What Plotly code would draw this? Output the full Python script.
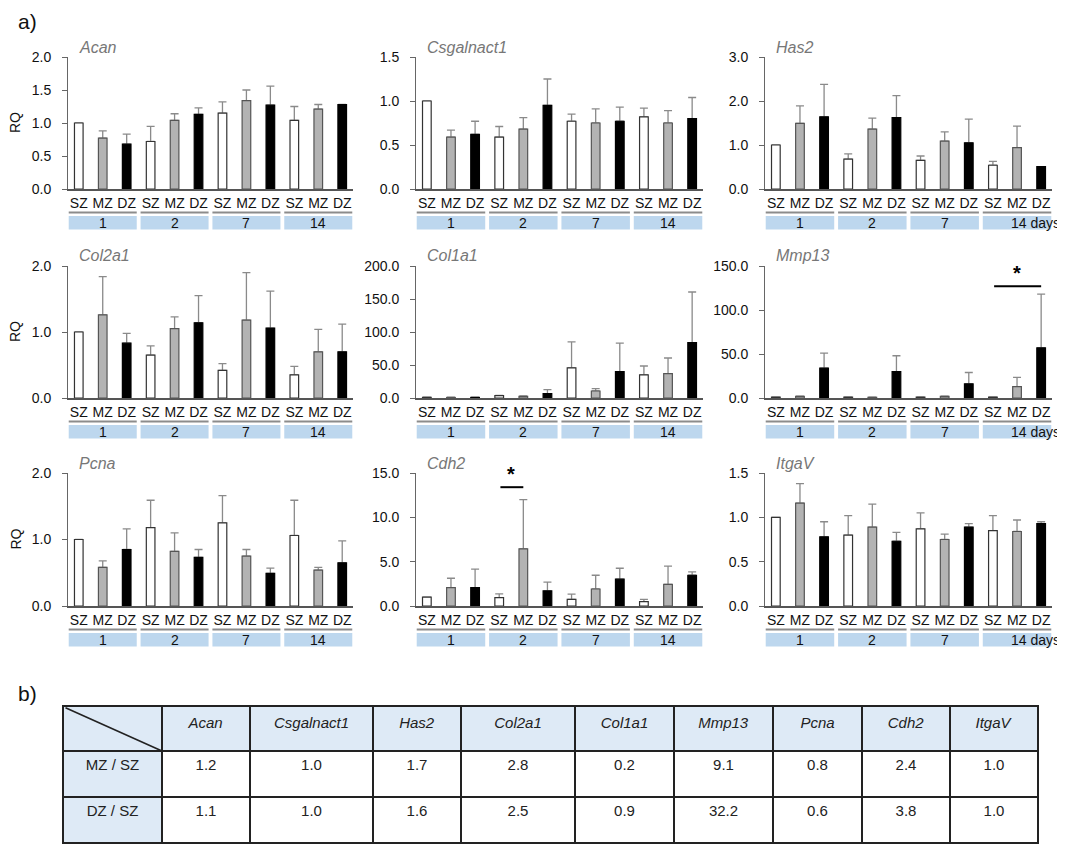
import plotly.graph_objects as go

# ---- data ----
zones = ["SZ", "MZ", "DZ"]
days = ["1", "2", "7", "14"]
genes = ["Acan", "Csgalnact1", "Has2", "Col2a1", "Col1a1", "Mmp13", "Pcna", "Cdh2", "ItgaV"]

# RQ means, ordered SZ MZ DZ for day 1, 2, 7, 14
acan = [1.00, 0.77, 0.68, 0.72, 1.04, 1.13, 1.15, 1.34, 1.27, 1.04, 1.21, 1.28]
acan_err = [0.0, 0.11, 0.15, 0.23, 0.10, 0.10, 0.17, 0.16, 0.29, 0.21, 0.07, 0.0]
csgalnact1 = [1.00, 0.59, 0.62, 0.59, 0.68, 0.95, 0.77, 0.75, 0.77, 0.82, 0.75, 0.80]
csgalnact1_err = [0.0, 0.08, 0.15, 0.12, 0.13, 0.30, 0.08, 0.16, 0.16, 0.10, 0.14, 0.24]
has2 = [1.00, 1.49, 1.64, 0.68, 1.36, 1.62, 0.65, 1.09, 1.05, 0.54, 0.94, 0.51]
has2_err = [0.0, 0.40, 0.74, 0.12, 0.25, 0.50, 0.10, 0.21, 0.54, 0.09, 0.49, 0.0]
col2a1 = [1.00, 1.26, 0.83, 0.65, 1.05, 1.14, 0.42, 1.18, 1.06, 0.35, 0.70, 0.70]
col2a1_err = [0.0, 0.58, 0.15, 0.14, 0.18, 0.41, 0.10, 0.72, 0.56, 0.13, 0.34, 0.42]
col1a1 = [1.0, 0.8, 0.9, 3.5, 2.5, 6.6, 45.5, 10.6, 40.0, 35.0, 37.0, 84.0]
col1a1_err = [0.3, 0.3, 0.3, 0.5, 0.5, 6.0, 39.5, 3.5, 43.0, 13.5, 23.6, 76.6]
mmp13 = [1.0, 1.9, 34.0, 1.0, 0.8, 30.0, 1.0, 1.8, 16.0, 1.0, 13.0, 57.0]
mmp13_err = [0.0, 0.2, 17.0, 0.0, 0.1, 18.0, 0.1, 0.3, 13.0, 0.1, 10.5, 61.0]
pcna = [1.00, 0.58, 0.85, 1.18, 0.82, 0.73, 1.25, 0.75, 0.49, 1.06, 0.54, 0.65]
pcna_err = [0.0, 0.10, 0.31, 0.41, 0.28, 0.12, 0.41, 0.10, 0.08, 0.53, 0.04, 0.33]
cdh2 = [1.00, 2.07, 2.07, 0.94, 6.45, 1.70, 0.75, 1.92, 3.02, 0.49, 2.45, 3.47]
cdh2_err = [0.0, 1.06, 2.10, 0.42, 5.55, 1.00, 0.60, 1.55, 1.24, 0.26, 2.04, 0.38]
itgav = [1.00, 1.16, 0.78, 0.80, 0.89, 0.73, 0.87, 0.75, 0.89, 0.85, 0.84, 0.93]
itgav_err = [0.0, 0.22, 0.17, 0.22, 0.26, 0.10, 0.18, 0.06, 0.04, 0.17, 0.13, 0.02]

y_max = [2.0, 1.5, 3.0, 2.0, 200.0, 150.0, 2.0, 15.0, 1.5]
y_dtick = [0.5, 0.5, 1.0, 1.0, 50.0, 50.0, 1.0, 5.0, 0.5]

# significance marks: (panel index, from bar, to bar, height)
sig_marks = [(5, 9, 11, 127.0), (7, 3, 4, 13.4)]

# table b)
ratio_rows = ["MZ / SZ", "DZ / SZ"]
mz_sz = ["1.2", "1.0", "1.7", "2.8", "0.2", "9.1", "0.8", "2.4", "1.0"]
dz_sz = ["1.1", "1.0", "1.6", "2.5", "0.9", "32.2", "0.6", "3.8", "1.0"]

means = [acan, csgalnact1, has2, col2a1, col1a1, mmp13, pcna, cdh2, itgav]
errs = [acan_err, csgalnact1_err, has2_err, col2a1_err, col1a1_err,
        mmp13_err, pcna_err, cdh2_err, itgav_err]

# page body has an 8px margin, so the figure is drawn 8px smaller
OFF = 8
W, H = 1065 - OFF, 846 - OFF
FONT = "Arial, Liberation Sans, sans-serif"


def fx(px):
    return (px - OFF) / W


def fy(py):
    return 1 - (py - OFF) / H


cols_px = [(68, 353), (416, 703), (765, 1052)]
rows_px = [(57, 189), (266, 398), (473, 606)]

fill_cols = ["white", "#b3b3b3", "black"] * 4
line_cols = ["#333333", "#555555", "black"] * 4
xs = list(range(12))
ticktext = zones * 4

fig = go.Figure()
annotations = []
shapes = []

for k in range(9):
    r, c = divmod(k, 3)
    n = k + 1
    xa = "x" if n == 1 else "x%d" % n
    ya = "y" if n == 1 else "y%d" % n
    top, bot = rows_px[r]
    left, right = cols_px[c]
    hpx = bot - top

    # error bars underneath, real bars on top
    fig.add_trace(go.Bar(
        x=xs, y=means[k], width=0.36, xaxis=xa, yaxis=ya,
        marker=dict(color="rgba(0,0,0,0)", line=dict(width=0)),
        error_y=dict(type="data", array=errs[k], symmetric=False,
                     arrayminus=[0] * 12, color="#8a8a8a", thickness=1.3, width=4),
        showlegend=False, hoverinfo="skip"))
    fig.add_trace(go.Bar(
        x=xs, y=means[k], width=0.36, xaxis=xa, yaxis=ya,
        marker=dict(color=fill_cols, line=dict(color=line_cols, width=1.2)),
        showlegend=False))

    fig.layout["xaxis" if n == 1 else "xaxis%d" % n] = dict(
        domain=[fx(left), fx(right)], anchor=ya, range=[-0.45, 11.45],
        tickvals=xs, ticktext=ticktext, ticks="", showgrid=False, zeroline=False,
        showline=True, linecolor="#555555", linewidth=1.5, automargin=False,
        tickfont=dict(size=14, color="#111111", family=FONT), fixedrange=True)
    fig.layout["yaxis" if n == 1 else "yaxis%d" % n] = dict(
        domain=[fy(bot), fy(top)], anchor=xa, range=[0, y_max[k]],
        dtick=y_dtick[k], tickformat=".1f", ticks="outside", ticklen=5,
        tickcolor="#666666", showline=True, linecolor="#666666", linewidth=1,
        showgrid=False, zeroline=False, automargin=False, ticklabelstandoff=8,
        tickfont=dict(size=14, color="#111111", family=FONT), fixedrange=True)

    # gene name
    annotations.append(dict(
        text="<i>%s</i>" % genes[k], x=fx(left + 9), y=fy(top - 10),
        xref="paper", yref="paper", xanchor="left", yanchor="middle",
        showarrow=False, font=dict(size=16, color="#777777", family=FONT)))

    # day groups: grey rule + blue box + label
    for g, d in enumerate(days):
        x0, x1 = 3 * g - 0.42, 3 * g + 2.42
        shapes.append(dict(
            type="line", xref=xa, yref=ya + " domain", x0=x0, x1=x1,
            y0=-23.5 / hpx, y1=-23.5 / hpx, line=dict(color="#8c8c8c", width=2)))
        shapes.append(dict(
            type="rect", xref=xa, yref=ya + " domain", x0=x0, x1=x1,
            y0=-27 / hpx, y1=-40.5 / hpx, fillcolor="#bdd7ee", line=dict(width=0)))
        if c == 2 and g == 3:
            annotations.append(dict(
                text=d + " days", x=3 * g + 0.66, y=-34 / hpx, xref=xa,
                yref=ya + " domain", xanchor="left", yanchor="middle",
                showarrow=False, font=dict(size=14, color="#111111", family=FONT)))
        else:
            annotations.append(dict(
                text=d, x=3 * g + 1, y=-34 / hpx, xref=xa, yref=ya + " domain",
                xanchor="center", yanchor="middle", showarrow=False,
                font=dict(size=14, color="#111111", family=FONT)))

    if c == 0:
        annotations.append(dict(
            text="RQ", x=fx(15), y=fy((top + bot) / 2), xref="paper", yref="paper",
            xanchor="center", yanchor="middle", textangle=-90, showarrow=False,
            font=dict(size=14, color="#111111", family=FONT)))

# significance bars
for k, a, b, h in sig_marks:
    n = k + 1
    shapes.append(dict(type="line", xref="x%d" % n, yref="y%d" % n,
                       x0=a + 0.05, x1=b, y0=h, y1=h,
                       line=dict(color="black", width=2)))
    annotations.append(dict(
        text="<b>*</b>", x=(a + b) / 2, y=h, xref="x%d" % n, yref="y%d" % n,
        xanchor="center", yanchor="bottom", showarrow=False,
        font=dict(size=20, color="black", family=FONT)))

# panel letters
annotations.append(dict(text="a)", x=fx(27), y=fy(21), xref="paper", yref="paper",
                        xanchor="center", yanchor="middle", showarrow=False,
                        font=dict(size=21, color="#111111", family=FONT)))
annotations.append(dict(text="b)", x=fx(27), y=fy(693), xref="paper", yref="paper",
                        xanchor="center", yanchor="middle", showarrow=False,
                        font=dict(size=21, color="#111111", family=FONT)))

# table
col_edges = [63, 162, 250, 373, 461, 575, 674, 773, 862, 950, 1038]
col_w = [col_edges[i + 1] - col_edges[i] for i in range(len(col_edges) - 1)]
head_fill = "#deeaf6"
cell_vals = [ratio_rows] + [[mz_sz[i], dz_sz[i]] for i in range(len(genes))]
cell_fill = [[head_fill, head_fill]] + [["white", "white"]] * len(genes)

fig.add_trace(go.Table(
    domain=dict(x=[fx(63), fx(1038)], y=[0, fy(706)]),
    columnwidth=col_w,
    header=dict(values=[""] + ["<i>%s</i>" % g for g in genes], height=45,
                fill_color=head_fill, line=dict(color="#222222", width=1.5),
                align="center", font=dict(size=15, color="#222222", family=FONT)),
    cells=dict(values=cell_vals, height=46, fill=dict(color=cell_fill),
               line=dict(color="#222222", width=1.5), align="center",
               font=dict(size=15, color="#222222", family=FONT))))

# diagonal in the corner cell (arrow-less annotation line, drawn above the table)
annotations.append(dict(
    x=fx(162), y=fy(751), xref="paper", yref="paper", text="",
    showarrow=True, arrowhead=0, arrowwidth=1.6, arrowcolor="#222222",
    axref="pixel", ayref="pixel", ax=-(162 - 64), ay=-(751 - 707),
    standoff=0, startstandoff=0))

fig.update_layout(
    width=W, height=H, margin=dict(l=0, r=0, t=0, b=0, pad=0, autoexpand=False),
    paper_bgcolor="white", plot_bgcolor="white", barmode="overlay",
    annotations=annotations, shapes=shapes, showlegend=False,
    font=dict(family=FONT))

fig.write_html("out.html")
